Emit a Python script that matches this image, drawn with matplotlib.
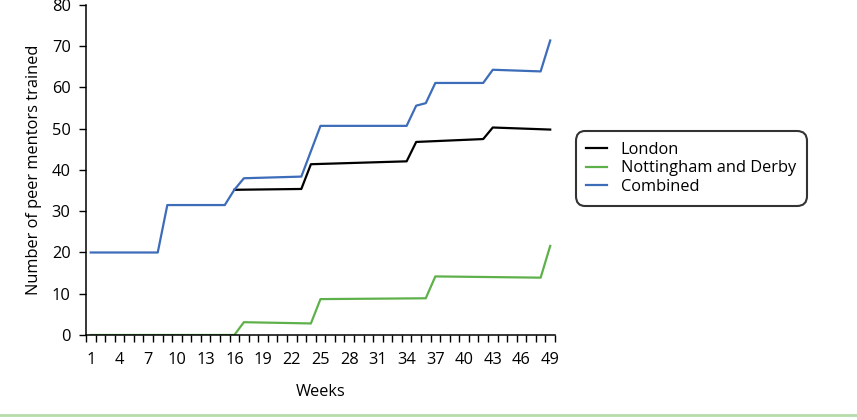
import matplotlib.pyplot as plt
from matplotlib.lines import Line2D

plt.rcParams['font.family'] = ['Open Sans', 'DejaVu Sans']

# breakpoints (week, number trained)
combined_weeks = [1, 8, 9, 15, 16, 17, 23, 25, 34, 35, 36, 37, 42, 43, 48, 49]
combined_vals = [20, 20, 31.5, 31.5, 35.2, 38.0, 38.4, 50.7, 50.7, 55.6, 56.2, 61.1, 61.1, 64.3, 63.9, 71.4]

london_weeks = [16, 23, 24, 34, 35, 42, 43, 49]
london_vals = [35.2, 35.4, 41.4, 42.1, 46.8, 47.5, 50.3, 49.8]

notts_weeks = [1, 16, 17, 24, 25, 36, 37, 48, 49]
notts_vals = [0, 0, 3.1, 2.8, 8.7, 8.9, 14.2, 13.9, 21.6]

week_labels = list(range(1, 50, 3))
y_ticks = list(range(0, 81, 10))

c_london = '#000000'
c_notts = '#5eb14a'
c_comb = '#3d6cb9'
fs = 11.8

fig = plt.figure(figsize=(8.57, 4.2), dpi=100)
ax = fig.add_axes([0.1003, 0.2024, 0.5473, 0.7857])

ax.plot(london_weeks, london_vals, color=c_london, lw=1.6)
ax.plot(notts_weeks, notts_vals, color=c_notts, lw=1.6)
ax.plot(combined_weeks, combined_vals, color=c_comb, lw=1.6)

ax.set_xlim(0.5, 49.5)
ax.set_ylim(0, 80)
ax.set_xticks(week_labels)
ax.set_xticks([w + 0.5 for w in range(0, 50)], minor=True)
ax.tick_params(axis='x', which='major', length=0, pad=12, labelsize=fs)
ax.tick_params(axis='x', which='minor', length=5, width=1, direction='out')
ax.set_yticks(y_ticks)
ax.tick_params(axis='y', length=5, width=1, pad=6, labelsize=fs)

for s in ['top', 'right']:
    ax.spines[s].set_visible(False)
for s in ['left', 'bottom']:
    ax.spines[s].set_linewidth(1.1)

ax.set_xlabel('Weeks', fontsize=fs, labelpad=12)
ax.set_ylabel('Number of peer mentors trained', fontsize=fs, labelpad=7)

handles = [Line2D([], [], color=c_london, lw=1.6),
           Line2D([], [], color=c_notts, lw=1.6),
           Line2D([], [], color=c_comb, lw=1.6)]
leg = fig.legend(handles, ['London', 'Nottingham and Derby', 'Combined'],
                 loc='center left', bbox_to_anchor=(0.662, 0.599),
                 fontsize=fs, frameon=True, fancybox=True,
                 handlelength=1.3, handletextpad=0.8, labelspacing=0.15,
                 borderpad=0.65)
frame = leg.get_frame()
frame.set_edgecolor('black')
frame.set_linewidth(1.5)
frame.set_boxstyle('round,pad=0,rounding_size=0.6')

# thin rule across the bottom of the figure
fig.add_artist(Line2D([0, 1], [0.011, 0.011], transform=fig.transFigure,
                      color='#b7dcaa', lw=2))

fig.savefig('out.png', dpi=100)
